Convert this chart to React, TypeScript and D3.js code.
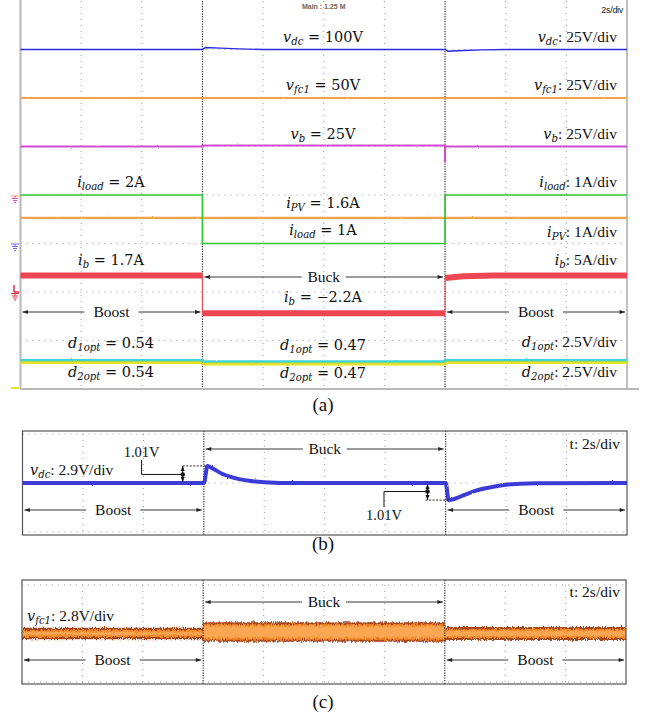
import React from "react";
import * as d3 from "d3";

// ---------------- data ----------------
// time axis in scope divisions (2 s/div); mode switches at div 3 and 7
const switchTimes = [3, 7];
const modeNames = ["Boost", "Buck", "Boost"];
const gridDivsX = [1, 2, 4, 5, 6, 8, 9];

// (a) traces
const vdcT = [0, 3, 3.05, 3.3, 3.6, 4.0, 7, 7.05, 7.3, 7.6, 8.0, 10];
const vdcV = [100, 100, 101, 100.7, 100.3, 100, 100, 99.1, 99.5, 99.8, 100, 100];
const vfc1T = [0, 10];
const vfc1V = [50, 50];
const vbT = [0, 3, 3, 7, 7, 7, 10];
const vbV = [25, 25, 25.5, 25.5, 16.8, 25, 25];
const iloadT = [0, 3, 3, 7, 7, 10];
const iloadV = [2, 2, 1, 1, 2, 2];
const ipvT = [0, 10];
const ipvV = [1.6, 1.6];
const ibT = [0, 3, 3, 7, 7, 7.3, 7.8, 10];
const ibV = [1.7, 1.7, -2.2, -2.2, 1.45, 1.62, 1.7, 1.7];
const d1T = [0, 3, 3, 7, 7, 10];
const d1V = [0.54, 0.54, 0.47, 0.47, 0.54, 0.54];
const d2T = [0, 3, 3, 7, 7, 10];
const d2V = [0.54, 0.54, 0.47, 0.47, 0.54, 0.54];

// (b) v_dc deviation (V), 2.9 V/div
const vdcBT = [0, 3, 3.06, 3.15, 3.3, 3.5, 3.75, 4.0, 4.5, 7, 7.05, 7.15, 7.3, 7.5, 7.75, 8.0, 8.5, 10];
const vdcBV = [0, 0, 1.01, 0.85, 0.55, 0.3, 0.13, 0.05, 0, 0, -1.01, -0.93, -0.72, -0.45, -0.25, -0.1, -0.02, 0];
const deltaLabel = "1.01V";

// (c) v_fc1 ripple band (V), 2.8 V/div
const vfcBandT = [0, 3, 3, 7, 7, 10];
const vfcBandLow = [-0.3, -0.3, -0.45, -0.45, -0.35, -0.35];
const vfcBandHigh = [0.3, 0.3, 0.62, 0.62, 0.35, 0.35];

// ---------------- style ----------------
const TIMES = "'Liberation Serif', 'Times New Roman', serif";
const MATH = "'DejaVu Serif', serif";
const SANS = "'Liberation Sans', Arial, sans-serif";

type Pt = [number, number];
const zip = (t: number[], v: number[]): Pt[] => t.map((x, i) => [x, v[i]]);

function Eq({ x, y, anchor, v, sub, rest, restTimes }: any) {
  const fs = 14.5;
  return (
    <text x={x} y={y} textAnchor={anchor} fontFamily={MATH} fontSize={fs} fill="#111">
      <tspan fontStyle="italic">{v}</tspan>
      {sub ? (
        <tspan fontStyle="italic" fontSize={fs * 0.7} dy={3}>
          {sub}
        </tspan>
      ) : null}
      <tspan dy={sub ? -3 : 0} fontFamily={restTimes ? TIMES : MATH} fontSize={restTimes ? 15.5 : fs}>
        {rest}
      </tspan>
    </text>
  );
}

function ModeArrow({ x0, x1, y, label, gap }: any) {
  const cx = (x0 + x1) / 2;
  return (
    <g>
      <line x1={cx - gap} y1={y} x2={x0} y2={y} stroke="#222" strokeWidth={0.9} markerEnd="url(#ah)" />
      <line x1={cx + gap} y1={y} x2={x1} y2={y} stroke="#222" strokeWidth={0.9} markerEnd="url(#ah)" />
      <text x={cx} y={y + 5} textAnchor="middle" fontFamily={TIMES} fontSize={15.5} fill="#111">
        {label}
      </text>
    </g>
  );
}

function Ground({ y, color, top }: any) {
  return (
    <g stroke={color} strokeWidth={1}>
      <line x1={11} x2={19} y1={y} y2={y} stroke={top || color} />
      <line x1={15} x2={15} y1={y} y2={y + 2} />
      <line x1={12} x2={18} y1={y + 2.5} y2={y + 2.5} />
      <line x1={13} x2={17} y1={y + 4.5} y2={y + 4.5} />
      <line x1={14} x2={16} y1={y + 6.5} y2={y + 6.5} />
    </g>
  );
}

export default function App() {
  // ---------- panel (a) ----------
  const ax = d3.scaleLinear().domain([0, 10]).range([20.5, 627]);
  const ay = d3.scaleLinear().domain([0, 8]).range([389, 1]);
  const chan = (g: number, per: number) =>
    d3
      .line<Pt>()
      .x((d) => ax(d[0]))
      .y((d) => ay(g + d[1] / per));

  // split a step trace into its mode segments (horizontal parts only)
  const segs = (t: number[], v: number[]) => {
    const bounds = [0, ...switchTimes, 10];
    const out: Pt[][] = [];
    for (let i = 0; i < bounds.length - 1; i++) {
      const s: Pt[] = [];
      t.forEach((x, j) => {
        if (x < bounds[i] || x > bounds[i + 1]) return;
        if (x === bounds[i] && i > 0 && t.lastIndexOf(x) !== j) return;
        if (x === bounds[i + 1] && i < bounds.length - 2 && t.indexOf(x) !== j) return;
        s.push([x, v[j]]);
      });
      out.push(s);
    }
    return out;
  };

  const ibLine = chan(2, 5);
  const d1Line = chan(0.38, 2.5);
  const d2Line = chan(0.33, 2.5);

  // ---------- panel (b) ----------
  const bx = d3.scaleLinear().domain([0, 10]).range([22.5, 627]);
  const by = d3.scaleLinear().domain([-2.9, 2.9]).range([532, 434]);
  const bLine = d3
    .line<Pt>()
    .x((d) => bx(d[0]))
    .y((d) => by(d[1]))
    .curve(d3.curveMonotoneX);

  // ---------- panel (c) ----------
  const cx = d3.scaleLinear().domain([0, 10]).range([22, 626]);
  const cy = d3.scaleLinear().domain([-2.8, 2.8]).range([682, 585]);
  const band = vfcBandT.map((t, i) => ({ t, lo: vfcBandLow[i], hi: vfcBandHigh[i] }));
  const bandArea = (shrink: number) =>
    d3
      .area<any>()
      .x((d) => cx(d.t))
      .y0((d) => cy(d.lo) - shrink)
      .y1((d) => cy(d.hi) + shrink);

  const dotted = { stroke: "#9a9a9a", strokeWidth: 1, strokeDasharray: "1,5" };
  const darkDot = { stroke: "#333", strokeWidth: 1.2, strokeDasharray: "1.2,1.3" };

  const modeRanges = (sx: any) => {
    const b = [0, ...switchTimes, 10];
    return modeNames.map((m, i) => ({ m, x0: sx(b[i]) + 2, x1: sx(b[i + 1]) - 2 }));
  };

  const bPeakY = by(vdcBV[2]);
  const bDipY = by(vdcBV[10]);
  const bZero = by(0);
  const lArrowX = bx(2.65);
  const lLabelX = bx(1.97);
  const rArrowX = bx(6.7);
  const rLabelX = bx(5.98);

  return (
    <svg
      width={647}
      height={719}
      style={{ position: "absolute", left: 0, top: 0, background: "#fff" }}
      xmlns="http://www.w3.org/2000/svg"
    >
      <defs>
        <marker id="ah" viewBox="0 0 10 10" refX={10} refY={5} markerWidth={7} markerHeight={6} orient="auto">
          <path d="M0,1.5 L10,5 L0,8.5 z" fill="#222" />
        </marker>
        <marker id="ahs" viewBox="0 0 10 10" refX={10} refY={5} markerWidth={5} markerHeight={5} orient="auto-start-reverse">
          <path d="M0,1 L10,5 L0,9 z" fill="#111" />
        </marker>
        <filter id="noise" x="-2%" y="-80%" width="104%" height="260%">
          <feTurbulence type="fractalNoise" baseFrequency="0.9 0.25" numOctaves={2} seed={4} result="t" />
          <feDisplacementMap in="SourceGraphic" in2="t" scale={5} xChannelSelector="G" yChannelSelector="R" />
        </filter>
        <filter id="noiseS" x="-2%" y="-100%" width="104%" height="300%">
          <feTurbulence type="fractalNoise" baseFrequency="0.8 0.4" numOctaves={1} seed={7} result="t" />
          <feDisplacementMap in="SourceGraphic" in2="t" scale={2} xChannelSelector="G" yChannelSelector="R" />
        </filter>
      </defs>
      <rect x={0} y={0} width={647} height={719} fill="#fff" />

      {/* ================= (a) ================= */}
      <g>
        {gridDivsX.map((d) => (
          <line key={"av" + d} x1={ax(d)} x2={ax(d)} y1={ay(8)} y2={ay(0)} {...dotted} />
        ))}
        {d3.range(1, 8).map((d) => (
          <line key={"ah" + d} x1={ax(0)} x2={ax(10)} y1={ay(d)} y2={ay(d)} {...dotted} />
        ))}
        {switchTimes.map((t) => (
          <line key={"as" + t} x1={ax(t)} x2={ax(t)} y1={ay(8)} y2={ay(0)} {...darkDot} />
        ))}
        <line x1={ax(0)} x2={ax(0)} y1={0} y2={ay(0)} stroke="#b8b8b8" strokeWidth={2} />
        <line x1={ax(10)} x2={ax(10)} y1={0} y2={ay(0)} stroke="#c0c0c0" strokeWidth={2} />
        <line x1={ax(0)} x2={ax(10) + 12} y1={ay(0)} y2={ay(0)} stroke="#b8b8b8" strokeWidth={2} />

        <text x={ax(5)} y={9} textAnchor="middle" fontFamily={SANS} fontSize={7} fill="#666" fontWeight="bold">
          Main : 1.25 M
        </text>
        <text x={ax(10) - 4} y={13} textAnchor="end" fontFamily={SANS} fontSize={9} fill="#222" letterSpacing={-0.3}>
          2s/div
        </text>

        {/* traces */}
        <g filter="url(#noiseS)">
          <path d={chan(4, 25)(zip(vfc1T, vfc1V))!} stroke="#f2a24a" strokeWidth={2.2} fill="none" />
          <path d={chan(1.93, 1)(zip(ipvT, ipvV))!} stroke="#f2a24a" strokeWidth={2.2} fill="none" />
          <path d={chan(4, 25)(zip(vbT, vbV))!} stroke="#d24ad4" strokeWidth={2} fill="none" />
        </g>
        <path d={chan(3, 25)(zip(vdcT, vdcV))!} stroke="#2a2ae0" strokeWidth={1.4} fill="none" />
        <path d={chan(2, 1)(zip(iloadT, iloadV))!} stroke="#2fc82f" strokeWidth={1.6} fill="none" />
        <path d={ibLine(zip(ibT, ibV))!} stroke="#ef4653" strokeWidth={1} fill="none" />
        {segs(ibT, ibV).map((s, i) => (
          <path key={"ib" + i} d={ibLine(s)!} stroke="#ef4653" strokeWidth={6} fill="none" />
        ))}
        <g filter="url(#noiseS)">
          <path d={d2Line(zip(d2T, d2V))!} stroke="#e6e22c" strokeWidth={3} fill="none" />
          <path d={d1Line(zip(d1T, d1V))!} stroke="#3cd2e0" strokeWidth={2.4} fill="none" />
          <path d={chan(0.355, 2.5)(zip(d1T, d1V))!} stroke="#8fd84a" strokeWidth={0.8} fill="none" opacity={0.8} />
        </g>

        {/* ground markers */}
        <Ground y={196} color="#e24ad0" top="#f2a24a" />
        <Ground y={244} color="#6a6ae8" />
        <g>
          <line x1={14} x2={14} y1={285} y2={292} stroke="#e83040" strokeWidth={1.5} />
          <line x1={14} x2={19} y1={292} y2={292} stroke="#e83040" strokeWidth={1.5} />
          <Ground y={293.5} color="#e83040" />
        </g>
        <line x1={11} x2={19} y1={388} y2={388} stroke="#e6e22c" strokeWidth={2} />

        {/* labels center */}
        <Eq x={323} y={42} anchor="middle" v="v" sub="dc" rest=" = 100V" />
        <Eq x={323} y={90} anchor="middle" v="v" sub="fc1" rest=" = 50V" />
        <Eq x={323} y={139} anchor="middle" v="v" sub="b" rest=" = 25V" />
        <Eq x={323} y={208} anchor="middle" v="i" sub="PV" rest=" = 1.6A" />
        <Eq x={323} y={235} anchor="middle" v="i" sub="load" rest=" = 1A" />
        <Eq x={323} y={302} anchor="middle" v="i" sub="b" rest=" = −2.2A" />
        <Eq x={323} y={350} anchor="middle" v="d" sub="1opt" rest=" = 0.47" />
        <Eq x={323} y={378} anchor="middle" v="d" sub="2opt" rest=" = 0.47" />
        {/* labels left */}
        <Eq x={111} y={187} anchor="middle" v="i" sub="load" rest=" = 2A" />
        <Eq x={111} y={265} anchor="middle" v="i" sub="b" rest=" = 1.7A" />
        <Eq x={111} y={348} anchor="middle" v="d" sub="1opt" rest=" = 0.54" />
        <Eq x={111} y={377} anchor="middle" v="d" sub="2opt" rest=" = 0.54" />
        {/* labels right */}
        <Eq x={617} y={42} anchor="end" v="v" sub="dc" rest=": 25V/div" restTimes />
        <Eq x={617} y={90} anchor="end" v="v" sub="fc1" rest=": 25V/div" restTimes />
        <Eq x={617} y={139} anchor="end" v="v" sub="b" rest=": 25V/div" restTimes />
        <Eq x={617} y={187} anchor="end" v="i" sub="load" rest=": 1A/div" restTimes />
        <Eq x={617} y={237} anchor="end" v="i" sub="PV" rest=": 1A/div" restTimes />
        <Eq x={617} y={265} anchor="end" v="i" sub="b" rest=": 5A/div" restTimes />
        <Eq x={617} y={347} anchor="end" v="d" sub="1opt" rest=": 2.5V/div" restTimes />
        <Eq x={617} y={377} anchor="end" v="d" sub="2opt" rest=": 2.5V/div" restTimes />

        {/* mode arrows */}
        {modeRanges(ax).map((r, i) => (
          <ModeArrow key={"am" + i} x0={r.x0} x1={r.x1} y={r.m === "Buck" ? 277 : 312} label={r.m} gap={r.m === "Buck" ? 22 : 27} />
        ))}

        <text x={323} y={411} textAnchor="middle" fontFamily={TIMES} fontSize={19} fill="#111">
          (a)
        </text>
      </g>

      {/* ================= (b) ================= */}
      <g>
        {gridDivsX.map((d) => (
          <line key={"bv" + d} x1={bx(d)} x2={bx(d)} y1={434} y2={532} {...dotted} />
        ))}
        {[-2.9, 0, 2.9].map((d) => (
          <line key={"bh" + d} x1={bx(0)} x2={bx(10)} y1={by(d)} y2={by(d)} {...dotted} />
        ))}
        {switchTimes.map((t) => (
          <line key={"bs" + t} x1={bx(t)} x2={bx(t)} y1={431} y2={535} {...darkDot} />
        ))}
        <rect x={22.5} y={431} width={604.5} height={104} fill="none" stroke="#555" strokeWidth={1.2} />

        <g filter="url(#noiseS)">
          <path d={bLine(zip(vdcBT, vdcBV))!} stroke="#3b3bd6" strokeWidth={4} fill="none" strokeLinejoin="round" />
        </g>

        {/* left annotation (overshoot) */}
        <line x1={lArrowX} x2={bx(3.05)} y1={bPeakY} y2={bPeakY} stroke="#222" strokeWidth={1} strokeDasharray="2,1.5" />
        <line x1={lArrowX} x2={lArrowX} y1={(bPeakY + bZero) / 2} y2={bPeakY} stroke="#111" strokeWidth={1} markerEnd="url(#ahs)" />
        <line x1={lArrowX} x2={lArrowX} y1={(bPeakY + bZero) / 2} y2={bZero - 1} stroke="#111" strokeWidth={1} markerEnd="url(#ahs)" />
        <circle cx={lArrowX} cy={(bPeakY + bZero) / 2} r={2.3} fill="#111" />
        <polyline
          points={`${lLabelX},${460} ${lLabelX},${(bPeakY + bZero) / 2} ${lArrowX - 2},${(bPeakY + bZero) / 2}`}
          fill="none"
          stroke="#111"
          strokeWidth={1}
        />
        <text x={lLabelX} y={457} textAnchor="middle" fontFamily={TIMES} fontSize={14.5} fill="#111">
          {deltaLabel}
        </text>

        {/* right annotation (undershoot) */}
        <line x1={rArrowX - 2} x2={bx(7.05)} y1={bDipY} y2={bDipY} stroke="#222" strokeWidth={1} strokeDasharray="2,1.5" />
        <line x1={rArrowX} x2={rArrowX} y1={(bDipY + bZero) / 2} y2={bDipY} stroke="#111" strokeWidth={1} markerEnd="url(#ahs)" />
        <line x1={rArrowX} x2={rArrowX} y1={(bDipY + bZero) / 2} y2={bZero + 1} stroke="#111" strokeWidth={1} markerEnd="url(#ahs)" />
        <circle cx={rArrowX} cy={(bDipY + bZero) / 2} r={2.3} fill="#111" />
        <polyline
          points={`${rArrowX - 2},${(bDipY + bZero) / 2} ${rLabelX},${(bDipY + bZero) / 2} ${rLabelX},${507}`}
          fill="none"
          stroke="#111"
          strokeWidth={1}
        />
        <text x={rLabelX} y={520} textAnchor="middle" fontFamily={TIMES} fontSize={14.5} fill="#111">
          {deltaLabel}
        </text>

        <Eq x={30} y={475} anchor="start" v="v" sub="dc" rest=": 2.9V/div" restTimes />
        <text x={620} y={449} textAnchor="end" fontFamily={TIMES} fontSize={15.5} fill="#111">
          t: 2s/div
        </text>
        {modeRanges(bx).map((r, i) => (
          <ModeArrow key={"bm" + i} x0={r.x0} x1={r.x1} y={r.m === "Buck" ? 449 : 510} label={r.m} gap={r.m === "Buck" ? 22 : 27} />
        ))}
        <text x={323} y={550} textAnchor="middle" fontFamily={TIMES} fontSize={19} fill="#111">
          (b)
        </text>
      </g>

      {/* ================= (c) ================= */}
      <g>
        {gridDivsX.map((d) => (
          <line key={"cv" + d} x1={cx(d)} x2={cx(d)} y1={585} y2={682} {...dotted} />
        ))}
        {[-2.8, 0, 2.8].map((d) => (
          <line key={"ch" + d} x1={cx(0)} x2={cx(10)} y1={cy(d)} y2={cy(d)} {...dotted} />
        ))}
        <g filter="url(#noise)">
          <path d={bandArea(-0.5)(band)!} fill="#a8461a" />
          <path d={bandArea(1.6)(band)!} fill="#f38a2c" />
          <path d={bandArea(3.6)(band)!} fill="#fbac5c" opacity={0.8} />
        </g>
        {switchTimes.map((t) => (
          <line key={"cs" + t} x1={cx(t)} x2={cx(t)} y1={580} y2={684} {...darkDot} />
        ))}
        <rect x={22} y={580} width={604} height={104} fill="none" stroke="#555" strokeWidth={1.2} />

        <Eq x={27} y={621} anchor="start" v="v" sub="fc1" rest=": 2.8V/div" restTimes />
        <text x={620} y={597} textAnchor="end" fontFamily={TIMES} fontSize={15.5} fill="#111">
          t: 2s/div
        </text>
        {modeRanges(cx).map((r, i) => (
          <ModeArrow key={"cm" + i} x0={r.x0} x1={r.x1} y={r.m === "Buck" ? 602 : 660} label={r.m} gap={r.m === "Buck" ? 22 : 27} />
        ))}
        <text x={323} y={708} textAnchor="middle" fontFamily={TIMES} fontSize={19} fill="#111">
          (c)
        </text>
      </g>
    </svg>
  );
}
